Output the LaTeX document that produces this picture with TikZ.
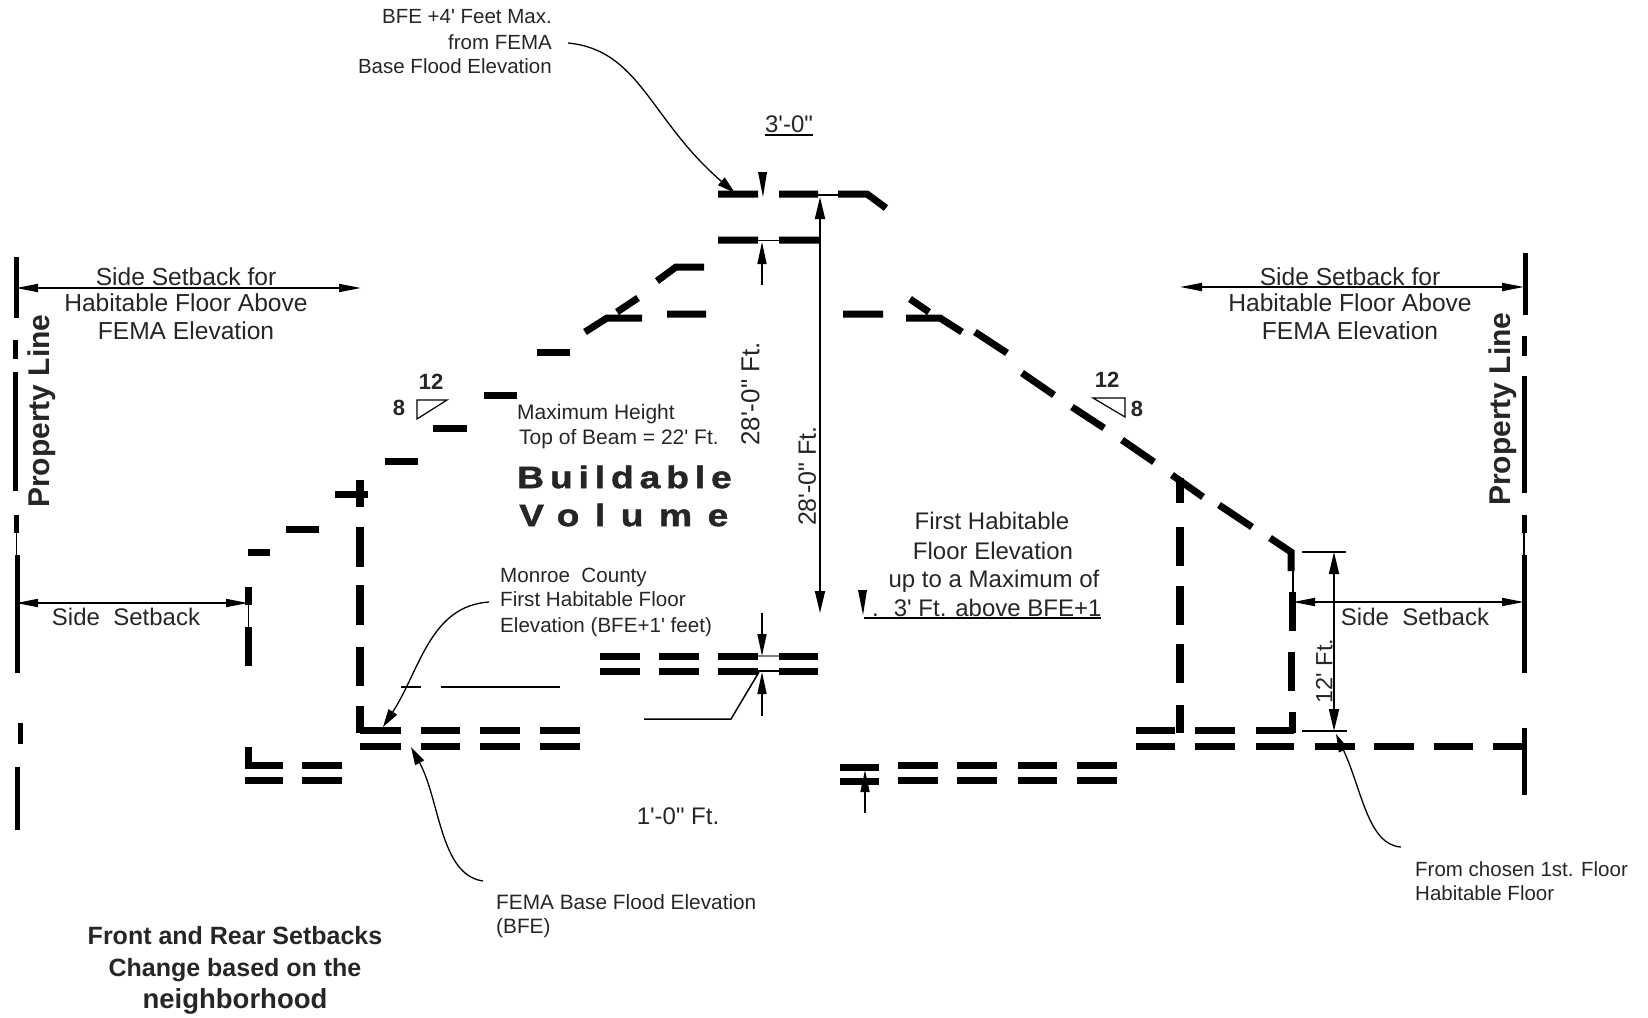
\documentclass[tikz,border=0pt]{standalone}
\usepackage{fontspec}
\setmainfont{Liberation Sans}[Ligatures=TeXOff]
\usetikzlibrary{arrows.meta}
\newfontfamily\bvA{Liberation Sans}[Ligatures=TeXOff,FakeStretch=1.2,LetterSpace=19,BoldFeatures={FakeBold=1.5}]
\newfontfamily\bvB{Liberation Sans}[Ligatures=TeXOff,FakeStretch=1.2,LetterSpace=50,BoldFeatures={FakeBold=1.5}]
\newcommand\fsz[1]{\fontsize{#1}{#1}\selectfont}
\tikzset{
  heavy/.style={line width=7pt,line cap=butt,line join=miter},
  mid/.style={line width=5pt,line cap=butt},
  hair/.style={line width=1.5pt},
  thin rule/.style={line width=2.5pt},
  dim/.style={line width=1.8pt,{Triangle[length=22pt,width=10pt]}-{Triangle[length=22pt,width=10pt]}},
  setb/.style={line width=1.8pt,{Triangle[length=22pt,width=8pt]}-{Triangle[length=22pt,width=8pt]}},
  lead/.style={line width=1.3pt,-{Triangle[length=18pt,width=10pt]}},
  up/.style={line width=1.6pt,-{Triangle[length=22pt,width=9pt]}},
  lbl/.code={\pgfmathsetmacro\hh{#1*0.716}\tikzset{inner sep=0pt,yshift=-1pt,font=\fsz{#1},text height=\hh pt,text depth=0pt,text=black!85}},
}
\begin{document}
\begin{tikzpicture}[x=1pt,y=-1pt]
\useasboundingbox (0,0) rectangle (1648,1017);
% left property line
\draw[mid] (16,257)--(16,318) (15,340)--(15,359) (15,372)--(15,491) (16,515)--(16,533) (17,555)--(17,673) (20,723)--(20,744) (17,767)--(17,830);
\draw[hair] (16.5,533)--(16.5,555);
% right property line
\draw[mid] (1525,253)--(1525,315) (1524,336)--(1524,356) (1524,376)--(1524,493) (1524,515)--(1524,533) (1524,555)--(1524,673) (1524,728)--(1524,795);
\draw[hair] (1524,533)--(1524,555);
% left stepped roof
\draw[heavy] (248,552)--(270,552) (286,529)--(319,529) (335,494)--(368,494) (385,461)--(418,461) (433,428)--(467,428) (484,395)--(517,395) (537,352)--(570,352);
\draw[heavy] (585,332)--(607,318)--(642,318) (617,312)--(638,298) (667,314)--(706,314) (657,281)--(676,267)--(704,267);
% ridge
\draw[heavy] (718,240)--(758,240) (779,240)--(819,240) (718,194)--(758,194) (779,194)--(818,194) (838,194)--(867,194)--(886,208);
\draw[hair] (758,240.5)--(779,240.5) (818,195)--(838,195);
% right roof
\draw[heavy] (843,314)--(883,314) (910,299)--(929,312) (906,318)--(940,318)--(962,332) (975,332)--(1007,353) (1022,373)--(1054,395) (1072,407)--(1104,428) (1122,440)--(1154,462) (1172,475)--(1203,497) (1219,505)--(1252,527) (1270,538)--(1291,552)--(1291,571);
% walls
\draw[heavy,line width=8pt] (360,480)--(360,507) (360,527)--(360,567) (360,585)--(360,625) (360,647)--(360,686) (360,706)--(360,733);
\draw[heavy,line width=8pt] (1180,478)--(1180,503) (1180,527)--(1180,566) (1180,586)--(1180,625) (1180,644)--(1180,683) (1180,705)--(1180,733);
\draw[heavy,line width=7pt] (1292,592)--(1292,631) (1291,652)--(1291,691) (1292,712)--(1292,733);
\draw[hair] (1293,571)--(1293,592);
\draw[heavy] (248,587)--(248,605) (248,627)--(248,666) (248,747)--(248,768);
\draw[hair] (248.5,605)--(248.5,627);
% floor dashes
\foreach \a/\b in {245/283,302/342}{\draw[heavy] (\a,765)--(\b,765) (\a,780)--(\b,780);}
\foreach \a/\b in {360/401,421/460,480/520,540/580}{\draw[heavy] (\a,730)--(\b,730) (\a,746)--(\b,746);}
\foreach \a/\b in {600/640,659/699,718/758,779/818}{\draw[heavy] (\a,656)--(\b,656) (\a,671)--(\b,671);}
\foreach \a/\b in {898/938,957/997,1018/1057,1077/1117}{\draw[heavy] (\a,765)--(\b,765) (\a,780)--(\b,780);}
\draw[heavy] (840,767)--(879,767) (840,781)--(879,781);
\foreach \a/\b in {1136/1175,1195/1235,1256/1294}{\draw[heavy] (\a,730)--(\b,730) (\a,746)--(\b,746);}
\foreach \a/\b in {1136/1175,1195/1235,1256/1294,1315/1355,1374/1414,1434/1473,1493/1522}{\draw[heavy] (\a,746)--(\b,746);}
\draw[hair] (758,671)--(779,671);
\draw[line width=2pt,black!50] (758,656)--(779,656);
\draw[thin rule] (401,687)--(421,687) (441,687)--(560,687);
% setback arrows
\draw[setb] (16,603)--(248,603);
\draw[setb] (1293,602)--(1524,602);
\draw[setb] (16,288)--(361,288);
\draw[setb] (1180,287)--(1524,287);
% dimension lines
\draw[dim] (820,197)--(820,613);
\draw[dim] (1334,552)--(1334,731);
\draw[hair] (1302,552)--(1346,552) (1302,731)--(1347,731);
\draw[up] (762,285)--(762,242);
\draw[up] (762,613)--(762,656);
\draw[up] (762,716)--(762,672);
\draw[up] (865,813)--(865,770);
\draw[hair] (644,719)--(731,719)--(759,672);
% wedge marks
\fill (758,172)--(767,172)--(763,197)--cycle;
\fill (858,590)--(867,590)--(863,615)--cycle;
% pitch triangles
\draw[line width=1.2pt] (417,400)--(447,400)--(417,419)--cycle;
\draw[line width=1.2pt] (1093,398)--(1125,398)--(1125,417)--cycle;
% leaders
\draw[lead] (568,43) .. controls (640,50) and (650,120) .. (735,193);
\draw[lead] (489,602) .. controls (430,606) and (420,670) .. (383,727);
\draw[lead] (483,881) .. controls (440,875) and (440,800) .. (411,747);
\draw[lead] (1401,847) .. controls (1368,845) and (1362,790) .. (1336,734);
% underlines
\draw[hair] (765,135)--(813,135);
\draw[hair] (864,618)--(1101,618);
% texts
\node[lbl=20.5,anchor=east] (t1) at (552,15) {BFE +4' Feet Max.};
\node[lbl=20.5,anchor=east] (t2) at (552,41) {from FEMA};
\node[lbl=20.5,anchor=east] (t3) at (552,65) {Base Flood Elevation};
\node[lbl=24] (t4) at (789,123) {3'-0"};
\node[lbl=24.6] (s1) at (186,276) {Side Setback for};
\node[lbl=24.6] (s2) at (186,302) {Habitable Floor Above};
\node[lbl=24.6] (s3) at (186,330) {FEMA Elevation};
\node[lbl=24.6] (r1) at (1350,276) {Side Setback for};
\node[lbl=24.6] (r2) at (1350,302) {Habitable Floor Above};
\node[lbl=24.6] (r3) at (1350,330) {FEMA Elevation};
\node[lbl=30,rotate=90,font=\fsz{30}\bfseries] (p1) at (39,410) {Property Line};
\node[lbl=30,rotate=90,font=\fsz{30}\bfseries] (p2) at (1500,408) {Property Line};
\node[lbl=22,font=\fsz{22}\bfseries] (a1) at (431,381) {12};
\node[lbl=22,font=\fsz{22}\bfseries] (a2) at (399,407) {8};
\node[lbl=22,font=\fsz{22}\bfseries] (a3) at (1107,379) {12};
\node[lbl=22,font=\fsz{22}\bfseries] (a4) at (1137,408) {8};
\node[lbl=21,anchor=west] (m1) at (517,411) {Maximum Height};
\node[lbl=21,anchor=west] (m2) at (519,436) {Top of Beam = 22' Ft.};
\node[lbl=31,anchor=west,font=\fsz{31}\bvA\bfseries] (b1) at (517,476) {Buildable};
\node[lbl=31,anchor=west,font=\fsz{31}\bvB\bfseries] (b2) at (519,514) {Volume};
\node[lbl=26,rotate=90] (h1) at (750,393) {28'-0" Ft.};
\node[lbl=25,rotate=90] (h2) at (807,475) {28'-0" Ft.};
\node[lbl=24] (f1) at (992,520) {First Habitable};
\node[lbl=24] (f2) at (993,550) {Floor Elevation};
\node[lbl=24] (f3) at (994,578) {up to a Maximum of};
\node[lbl=24,anchor=west] (f4) at (872,607) {.\hspace{15pt}3' Ft. above BFE+1};
\node[lbl=20.6,anchor=west] (c1) at (500,574) {Monroe \ County};
\node[lbl=20.6,anchor=west] (c2) at (500,598) {First Habitable Floor};
\node[lbl=20.6,anchor=west] (c3) at (500,624) {Elevation (BFE+1' feet)};
\node[lbl=24] (d1) at (126,616) {Side \ Setback};
\node[lbl=24] (d2) at (1415,616) {Side \ Setback};
\node[lbl=23.5,rotate=90] (d3) at (1324,670) {12' Ft.};
\node[lbl=24] (d4) at (678,815) {1'-0" Ft.};
\node[lbl=20.8,anchor=west] (e1) at (496,901) {FEMA Base Flood Elevation};
\node[lbl=20.8,anchor=west] (e2) at (496,925) {(BFE)};
\node[lbl=20.5,anchor=west] (g1) at (1415,868) {From chosen 1st. Floor};
\node[lbl=20.5,anchor=west] (g2) at (1415,892) {Habitable Floor};
\node[lbl=25,font=\fsz{25}\bfseries] (k1) at (235,935) {Front and Rear Setbacks};
\node[lbl=25,font=\fsz{25}\bfseries] (k2) at (235,967) {Change based on the};
\node[lbl=27.5,font=\fsz{27.5}\bfseries] (k3) at (235,998) {neighborhood};
\end{tikzpicture}
\end{document}
